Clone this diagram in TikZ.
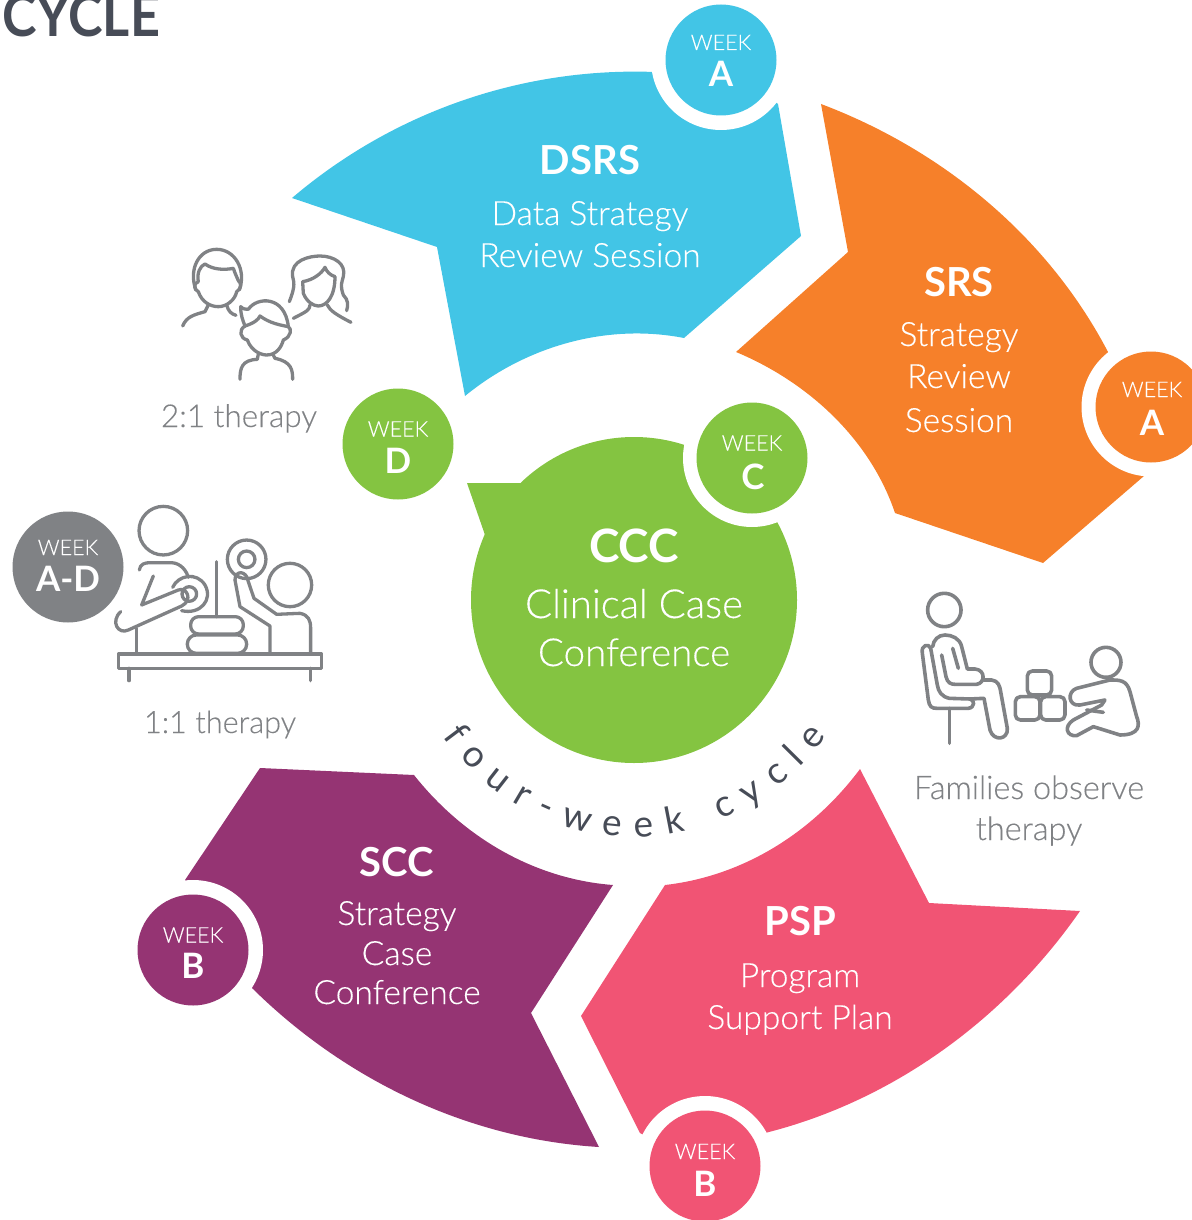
\documentclass[tikz,border=0pt]{standalone}
\usepackage{fontspec}
\setmainfont{Lato}[UprightFont=* Light,BoldFont=* Bold,UprightFeatures={FakeBold=0.25}]
\newfontfamily\lreg{Lato}
\usetikzlibrary{decorations.text}
\definecolor{cblue}{HTML}{42C5E6}
\definecolor{corange}{HTML}{F6802A}
\definecolor{cgreen}{HTML}{84C441}
\definecolor{cpurple}{HTML}{953473}
\definecolor{cpink}{HTML}{F15474}
\definecolor{cgray}{HTML}{808285}
\definecolor{cdark}{HTML}{474C57}
\newcommand{\fs}[1]{\fontsize{#1}{#1}\selectfont}
\tikzset{
  tx/.style={inner sep=0pt,anchor=base,text=white},
  head/.style={tx,font=\fs{40}\bfseries},
  sub/.style={tx,font=\fs{33.5}},
  wk/.style={tx,font=\fs{21.5}},
  wl/.style={tx,font=\fs{35}\bfseries},
  glab/.style={tx,text=cgray,font=\fs{31.5}},
  badge/.style={circle,minimum size=111pt,inner sep=0pt},
  ring/.style={fill=white},
  ico/.style={draw=cgray,line width=3.3pt,line cap=round,line join=round},
}
\begin{document}
\begin{tikzpicture}[x=1pt,y=-1pt]
\useasboundingbox (0,0) rectangle (1191,1220);
% petals
\fill[cblue] (292,198) .. controls (393,112) and (522,67) .. (655,72) -- (721,60) -- (778,104) -- (801,236) -- (684,338) .. controls (607,323) and (526,346) .. (465,396) -- (437,247) -- cycle;
\fill[corange] (821,104) .. controls (943,150) and (1048,237) .. (1108,352) -- (1151,407) -- (1144,476) -- (1043,563) -- (895,513) .. controls (870,439) and (808,382) .. (736,352) -- (848,252) -- cycle;
\fill[cpink] (860,769) -- (929,903) -- (1080,911) .. controls (1005,1019) and (893,1101) .. (765,1133) -- (705,1166) -- (640,1133) -- (581,1016) -- (665,885) .. controls (744,876) and (813,832) .. (860,769) -- cycle;
\fill[cpurple] (260,768) -- (414,775) .. controls (463,837) and (534,879) .. (613,885) -- (531,1013) -- (599,1147) .. controls (468,1139) and (345,1080) .. (252,988) -- (193,950) -- (185,880) -- cycle;
% centre
\fill[cgreen] (634,600) circle[radius=163];
\fill[cgreen] (467,483) -- (521,483) -- (530,520) -- (485,535) -- cycle;
% rings
\fill[ring] (721,60) circle[radius=70];
\fill[ring] (1151,407) circle[radius=69.5];
\fill[ring] (705,1166) circle[radius=70];
\fill[ring] (193,950) circle[radius=70];
\fill[ring] (752,458) circle[radius=69];
% badges
\node[badge,fill=cblue] (ba) at (721,60) {};
\node[badge,fill=corange] (bb) at (1151,407) {};
\node[badge,fill=cgreen] (bc) at (752,458) {};
\node[badge,fill=cgreen] (bd) at (398,444) {};
\node[badge,fill=cgray] (be) at (68,567) {};
\node[badge,fill=cpurple] (bf) at (193,950) {};
\node[badge,fill=cpink] (bg) at (705,1166) {};
% badge text
\node[wk] (t1) at (721,50) {WEEK}; \node[wl] (t2) at (721,87) {A};
\node[wk] (t3) at (1152,397) {WEEK}; \node[wl] (t4) at (1152,435) {A};
\node[wk] (t5) at (752,450.5) {WEEK}; \node[wl] (t6) at (753,489) {C};
\node[wk] (t7) at (398,436.5) {WEEK}; \node[wl] (t8) at (398,473) {D};
\node[wk] (t9) at (68,555) {WEEK}; \node[wl] (t10) at (68,591) {A-D};
\node[wk] (t11) at (193,942.5) {WEEK}; \node[wl] (t12) at (193,978) {B};
\node[wk] (t13) at (705,1159) {WEEK}; \node[wl] (t14) at (705,1196) {B};
% petal text
\node[head] (n1) at (590,174) {DSRS};
\node[sub] (n2) at (590,225) {Data Strategy};
\node[sub] (n3) at (590,267) {Review Session};
\node[head] (n4) at (959,296) {SRS};
\node[sub] (n5) at (959,346) {Strategy};
\node[sub] (n6) at (959,388) {Review};
\node[sub] (n7) at (959,432) {Session};
\node[head,font=\fs{46}\bfseries] (n8) at (634,562) {CCC};
\node[sub,font=\fs{40}] (n9) at (634,618) {Clinical Case};
\node[sub,font=\fs{38.5}] (n10) at (634,666) {Conference};
\node[head] (n11) at (397,876) {SCC};
\node[sub] (n12) at (397,925) {Strategy};
\node[sub] (n13) at (397,965) {Case};
\node[sub] (n14) at (397,1004) {Conference};
\node[head] (n15) at (800,935) {PSP};
\node[sub] (n16) at (800,987) {Program};
\node[sub] (n17) at (800,1029) {Support Plan};
% grey labels
\node[glab] (g1) at (239,427) {2:1 therapy};
\node[glab,font=\fs{30.7}] (g2) at (220,733) {1:1 therapy};
\node[glab,font=\fs{32.5}] (g3) at (1029,799) {Families observe};
\node[glab,font=\fs{32.5}] (g4) at (1029,840) {therapy};
% title
\node[tx,text=cdark,anchor=base west,font=\fs{58}\bfseries] (title) at (2,37) {\scalebox{0.9}[1]{CYCLE}};
% curved text
\path[decorate,decoration={text along path,text align={fit to path},
  text={|\fs{37}\lreg\color{cdark}|four-week cycle}}]
  (443,736) .. controls (487,798) and (558,837) .. (634,837) .. controls (710,837) and (781,798) .. (827,736);
% icon: 2:1 therapy
\begin{scope}[shift={(170,240)},x=0.3333pt,y=-0.3333pt,ico]
\draw (78,150) .. controls (55,90) and (85,28) .. (140,28) .. controls (195,28) and (230,90) .. (208,150);
\draw (85,125) .. controls (70,130) and (70,148) .. (85,155) .. controls (95,185) and (120,200) .. (145,200) .. controls (170,200) and (195,180) .. (200,155) .. controls (215,145) and (215,130) .. (205,122);
\draw (85,125) .. controls (80,100) and (90,78) .. (105,72) .. controls (130,90) and (165,90) .. (190,85) .. controls (195,100) and (200,110) .. (205,122);
\draw (115,195) -- (105,215) .. controls (70,225) and (50,230) .. (38,258);
\draw (170,195) .. controls (175,215) and (185,222) .. (198,226);
\draw (358,185) .. controls (372,150) and (375,130) .. (368,110) .. controls (360,60) and (420,48) .. (450,48) .. controls (490,48) and (530,70) .. (520,110) .. controls (515,130) and (510,135) .. (520,165) .. controls (535,180) and (535,195) .. (530,212);
\draw (398,125) -- (400,160) .. controls (410,185) and (430,198) .. (445,198) .. controls (470,198) and (495,170) .. (495,110);
\draw (398,125) .. controls (430,120) and (455,100) .. (465,82) .. controls (470,95) and (480,105) .. (495,110);
\draw (420,195) .. controls (418,210) and (415,212) .. (370,235);
\draw (472,195) .. controls (480,212) and (500,225) .. (543,247);
\draw (235,208) .. controls (260,170) and (345,165) .. (355,260);
\draw (225,258) .. controls (250,250) and (265,240) .. (270,228) .. controls (300,250) and (330,255) .. (355,260);
\draw (212,200) .. controls (220,208) and (228,208) .. (235,208);
\draw (212,200) .. controls (212,225) and (218,240) .. (225,258);
\draw (225,258) .. controls (205,270) and (210,295) .. (232,300) .. controls (245,335) and (275,345) .. (290,345) .. controls (320,345) and (335,320) .. (340,300) .. controls (365,290) and (365,265) .. (355,260);
\draw (265,342) -- (262,358) .. controls (215,360) and (210,385) .. (210,418);
\draw (308,342) -- (315,355) .. controls (365,365) and (368,390) .. (368,418);
\end{scope}
% icon: 1:1 therapy
\begin{scope}[shift={(100,500)},x=0.3333pt,y=-0.3333pt,ico]
\draw (190,92) circle[radius=24.3pt];
\draw (570,255) circle[radius=21.7pt];
\draw (440,178) circle[radius=19.3pt];
\draw (440,178) circle[radius=8.3pt];
\draw (268,282) circle[radius=7.3pt];
\draw (218,262) .. controls (235,225) and (290,215) .. (315,255) .. controls (340,300) and (300,345) .. (245,332);
\draw (350,185) -- (350,350);
\draw[rounded corners=8pt] (272,350) rectangle (430,402);
\draw[rounded corners=9pt] (262,405) rectangle (440,460);
\draw (55,462) rectangle (665,505);
\draw (87,505) -- (87,542);
\draw (632,505) -- (632,542);
\draw (118,210) .. controls (120,192) and (135,188) .. (150,188) -- (215,188) .. controls (245,190) and (260,215) .. (265,232);
\draw (110,385) -- (110,460);
\draw (160,228) -- (125,315) -- (235,270) .. controls (260,260) and (280,300) .. (245,318) -- (85,390) .. controls (55,405) and (30,365) .. (62,335);
\draw (405,240) .. controls (405,210) and (440,210) .. (445,245) -- (462,295) -- (530,343) -- (600,340) .. controls (625,345) and (632,360) .. (632,385) -- (632,460);
\draw (405,240) -- (420,320) -- (510,378) -- (510,460);
\end{scope}
% icon: families observe
\begin{scope}[shift={(910,585)},x=0.3333pt,y=-0.3333pt,ico,line width=3.6pt]
\draw (103,75) circle[radius=16.7pt];
\draw (62,190) .. controls (58,175) and (32,178) .. (37,205) -- (55,345) .. controls (58,365) and (65,370) .. (80,370) -- (175,370) .. controls (195,368) and (195,345) .. (180,342) -- (118,340) .. controls (95,335) and (85,320) .. (82,300) -- (62,190);
\draw (95,210) -- (108,275) .. controls (112,295) and (125,298) .. (135,298) -- (200,298) .. controls (225,295) and (228,255) .. (195,252) -- (172,252) -- (155,185) .. controls (150,160) and (125,150) .. (105,150) .. controls (85,150) and (70,165) .. (68,185);
\draw (128,190) -- (145,250);
\draw (220,285) -- (245,285) .. controls (265,287) and (270,305) .. (272,320) -- (292,430) .. controls (295,465) and (250,470) .. (240,435) -- (222,340) -- (180,342);
\draw (118,370) -- (118,475);
\draw[rounded corners=5pt] (352,258) rectangle (425,330);
\draw[rounded corners=5pt] (316,335) rectangle (390,405);
\draw[rounded corners=5pt] (392,335) rectangle (465,405);
\draw (588,232) circle[radius=15pt];
\draw (600,285) -- (500,310) .. controls (470,320) and (475,365) .. (510,360) -- (585,345) -- (575,360) -- (490,405) .. controls (460,425) and (470,455) .. (500,452) -- (550,425) -- (630,450) .. controls (690,450) and (690,420) .. (680,395) -- (660,320) .. controls (650,285) and (630,285) .. (600,285);
\draw (530,375) -- (580,382);
\end{scope}
\end{tikzpicture}
\end{document}
